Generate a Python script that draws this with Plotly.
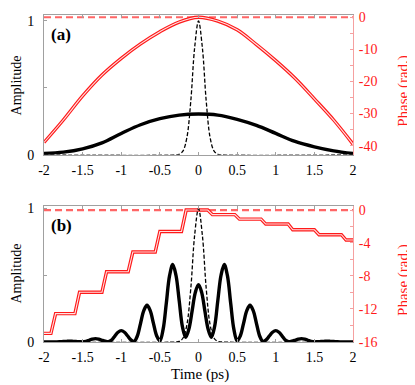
import plotly.graph_objects as go

# ========= data =========
# panel (a): broad pulse with quadratic-like phase
T_A = [-2, -1.75, -1.5, -1.25, -1, -0.75, -0.5, -0.25, 0, 0.25, 0.5, 0.75, 1, 1.25, 1.5, 1.75, 2]
AMP_A = [0.01, 0.02, 0.045, 0.09, 0.16, 0.225, 0.27, 0.297, 0.305, 0.297, 0.265, 0.22, 0.16, 0.1, 0.06, 0.03, 0.01]
PHASE_A = [-39, -32, -24.5, -18, -12.8, -8.3, -4.5, -1.5, 0, -1.2, -3.9, -8.5, -13.5, -19, -25.4, -32, -39.5]

# short reference pulse (dashed, both panels)
T_PULSE = [-2, -0.3, -0.25, -0.2, -0.15, -0.1, -0.05, 0, 0.05, 0.1, 0.15, 0.2, 0.25, 0.3, 2]
AMP_PULSE = [0, 0, 0.004, 0.03, 0.13, 0.40, 0.80, 1.0, 0.80, 0.40, 0.13, 0.03, 0.004, 0, 0]

# panel (b): pulse train, read every 1/24 ps
T_B = [-2.0, -1.9583, -1.9167, -1.875, -1.8333, -1.7917, -1.75, -1.7083, -1.6667, -1.625,
       -1.5833, -1.5417, -1.5, -1.4583, -1.4167, -1.375, -1.3333, -1.2917, -1.25, -1.2083,
       -1.1667, -1.125, -1.0833, -1.0417, -1.0, -0.9583, -0.9167, -0.875, -0.8333, -0.7917,
       -0.75, -0.7083, -0.6667, -0.625, -0.5833, -0.5417, -0.5, -0.4583, -0.4167, -0.375,
       -0.3333, -0.2917, -0.25, -0.2083, -0.1667, -0.125, -0.0833, -0.0417, 0.0,
       0.0417, 0.0833, 0.125, 0.1667, 0.2083, 0.25, 0.2917, 0.3333, 0.375, 0.4167,
       0.4583, 0.5, 0.5417, 0.5833, 0.625, 0.6667, 0.7083, 0.75, 0.7917, 0.8333,
       0.875, 0.9167, 0.9583, 1.0, 1.0417, 1.0833, 1.125, 1.1667, 1.2083, 1.25,
       1.2917, 1.3333, 1.375, 1.4167, 1.4583, 1.5, 1.5417, 1.5833, 1.625, 1.6667,
       1.7083, 1.75, 1.7917, 1.8333, 1.875, 1.9167, 1.9583, 2.0]
AMP_B = [0.001, 0.001, 0.001, 0.001, 0.001, 0.002, 0.0035, 0.005, 0.006, 0.005,
         0.0035, 0.002, 0.001, 0.005, 0.013, 0.021, 0.025, 0.021, 0.013, 0.006,
         0.002, 0.014, 0.044, 0.073, 0.085, 0.073, 0.045, 0.016, 0.004, 0.045,
         0.14, 0.235, 0.275, 0.235, 0.14, 0.047, 0.008, 0.094, 0.29, 0.495,
         0.58, 0.50, 0.31, 0.115, 0.035, 0.095, 0.23, 0.37, 0.43,
         0.37, 0.23, 0.095, 0.035, 0.115, 0.31, 0.50, 0.58, 0.495, 0.29,
         0.094, 0.008, 0.047, 0.14, 0.235, 0.275, 0.235, 0.14, 0.045, 0.004,
         0.016, 0.045, 0.073, 0.085, 0.073, 0.044, 0.014, 0.002, 0.006, 0.013,
         0.021, 0.025, 0.021, 0.013, 0.005, 0.001, 0.002, 0.0035, 0.005, 0.006,
         0.005, 0.0035, 0.002, 0.001, 0.001, 0.001, 0.001, 0.001]

# staircase phase of panel (b)
T_STEP = [-2.0, -1.91, -1.85, -1.60, -1.54, -1.25, -1.19, -0.91, -0.85, -0.56, -0.50,
          -0.22, -0.16, 0.12, 0.18, 0.47, 0.53, 0.81, 0.87, 1.16, 1.22, 1.50, 1.56,
          1.85, 1.91, 2.0]
PHASE_B = [-15.0, -15.0, -12.6, -12.6, -10.0, -10.0, -7.5, -7.5, -5.1, -5.1, -2.6,
           -2.6, 0.0, 0.0, -0.55, -0.55, -1.1, -1.1, -1.7, -1.7, -2.4, -2.4, -3.0,
           -3.0, -3.65, -3.65]

REF_T = [-2, 2]
REF_PHASE = [0, 0]

X_TICKS = [-2, -1.5, -1, -0.5, 0, 0.5, 1, 1.5, 2]
X_LABELS = ["-2", "-1.5", "-1", "-0.5", "0", "0.5", "1", "1.5", "2"]
AMP_TICKS = [0, 1]
AMP_LABELS = ["0", "1"]
PHASE_A_TICKS = [0, -10, -20, -30, -40]
PHASE_A_LABELS = ["0", "-10", "-20", "-30", "-40"]
PHASE_A_MINOR = [-5, -15, -25, -35]
PHASE_B_TICKS = [0, -4, -8, -12, -16]
PHASE_B_LABELS = ["0", "-4", "-8", "-12", "-16"]
PHASE_B_MINOR = [-2, -6, -10, -14]

# ========= style =========
OFF = 8  # page body margin of the browser
W, H = 415 - OFF, 385 - OFF
ML, MR, MT, MB = 44 - OFF, 62, 10 - OFF, 43
PW, PH = W - ML - MR, H - MT - MB
FONT = "Liberation Serif, Times New Roman, serif"
RED = "#ff1a1a"
RED_LIGHT = "#ff6666"
GRAY = "#a0a0a0"
PINK = "#f5a0a0"


def fx(px):
    # reference pixel -> paper
    return (px - OFF - ML) / PW


def fy(py):
    return (H - MB - (py - OFF)) / PH


def double_red(t, ph, xa, ya, shape="spline"):
    out = []
    for color, width in ((RED, 3.4), ("#ffe4e4", 1.1)):
        out.append(go.Scatter(
            x=t, y=ph, xaxis=xa, yaxis=ya, mode="lines",
            line=dict(color=color, width=width, shape=shape),
            hoverinfo="skip", showlegend=False,
        ))
    return out


fig = go.Figure()

# ---- panel (a): phase on y (right), amplitude on y2 (left, drawn above)
fig.add_trace(go.Scatter(x=REF_T, y=REF_PHASE, xaxis="x", yaxis="y", mode="lines",
                         line=dict(color=RED_LIGHT, width=2.2, dash="7px,4px"), showlegend=False))
for tr in double_red(T_A, PHASE_A, "x", "y"):
    fig.add_trace(tr)
fig.add_trace(go.Scatter(x=T_A, y=AMP_A, xaxis="x", yaxis="y2", mode="lines",
                         line=dict(color="black", width=3.4, shape="spline"), showlegend=False))
fig.add_trace(go.Scatter(x=T_PULSE, y=AMP_PULSE, xaxis="x", yaxis="y2", mode="lines",
                         line=dict(color="black", width=1.3, dash="4px,2px", shape="spline"),
                         showlegend=False))

# ---- panel (b)
fig.add_trace(go.Scatter(x=REF_T, y=REF_PHASE, xaxis="x2", yaxis="y3", mode="lines",
                         line=dict(color=RED_LIGHT, width=2.2, dash="7px,4px"), showlegend=False))
for tr in double_red(T_STEP, PHASE_B, "x2", "y3", shape="linear"):
    fig.add_trace(tr)
fig.add_trace(go.Scatter(x=T_B, y=AMP_B, xaxis="x2", yaxis="y4", mode="lines",
                         line=dict(color="black", width=3.4, shape="spline"), showlegend=False))
fig.add_trace(go.Scatter(x=T_PULSE, y=AMP_PULSE, xaxis="x2", yaxis="y4", mode="lines",
                         line=dict(color="black", width=1.3, dash="4px,2px", shape="spline"),
                         showlegend=False))

dom_a = [fy(152), 1.0]
dom_b = [0.0, fy(204.3)]

xcommon = dict(range=[-2, 2], tickvals=X_TICKS, ticktext=X_LABELS, showgrid=False, zeroline=False,
               showline=True, linecolor=GRAY, linewidth=1, mirror="ticks", ticks="inside",
               ticklen=3, tickcolor=GRAY, tickfont=dict(family=FONT, size=14, color="black"),
               ticklabelstandoff=2)
phase_common = dict(side="right", showgrid=False, zeroline=False, showline=True, linecolor=PINK,
                    linewidth=1, ticks="inside", ticklen=3, tickcolor=PINK,
                    tickfont=dict(family=FONT, size=14, color=RED), ticklabelstandoff=2)
amp_common = dict(side="left", tickvals=AMP_TICKS, ticktext=AMP_LABELS, showgrid=False,
                  zeroline=False, showline=True, linecolor=GRAY, linewidth=1, ticks="inside",
                  ticklen=3, tickcolor=GRAY, tickfont=dict(family=FONT, size=14, color="black"),
                  minor=dict(tickvals=[0.5], ticks="inside", ticklen=3, tickcolor=GRAY),
                  ticklabelstandoff=6)

fig.update_layout(
    width=W, height=H,
    margin=dict(l=ML, r=MR, t=MT, b=MB),
    paper_bgcolor="white", plot_bgcolor="white",
    showlegend=False,
    xaxis=dict(domain=[0, 1], anchor="y", **xcommon),
    yaxis=dict(domain=dom_a, anchor="x", range=[-42.85, 0.7], tickvals=PHASE_A_TICKS,
               ticktext=PHASE_A_LABELS,
               minor=dict(tickvals=PHASE_A_MINOR, ticks="inside", ticklen=3, tickcolor=PINK),
               **phase_common),
    yaxis2=dict(overlaying="y", anchor="x", range=[0, 1.044], **amp_common),
    xaxis2=dict(domain=[0, 1], anchor="y3", **xcommon),
    yaxis3=dict(domain=dom_b, anchor="x2", range=[-16.05, 0.45], tickvals=PHASE_B_TICKS,
                ticktext=PHASE_B_LABELS,
                minor=dict(tickvals=PHASE_B_MINOR, ticks="inside", ticklen=3, tickcolor=PINK),
                **phase_common),
    yaxis4=dict(overlaying="y3", anchor="x2", range=[0, 1.016], **amp_common),
)

notes = [
    ("Amplitude", 16.5, 82, "black", -90, False, 14),
    ("Amplitude", 16.5, 273, "black", -90, False, 14),
    ("Phase (rad.)", 404, 87, RED, -90, False, 15),
    ("Phase (rad.)", 404, 279, RED, -90, False, 15),
    ("Time (ps)", 200, 375, "black", 0, False, 15),
    ("(a)", 61, 29.5, "black", 0, True, 17),
    ("(b)", 61, 223.5, "black", 0, True, 17),
]
for text, px, py, color, angle, bold, size in notes:
    fig.add_annotation(
        x=fx(px), y=fy(py), xref="paper", yref="paper", showarrow=False,
        text=f"<b>{text}</b>" if bold else text, textangle=angle,
        xanchor="center", yanchor="middle", borderpad=0, borderwidth=0,
        font=dict(family=FONT, size=size, color=color),
    )

fig.write_html("out.html")
